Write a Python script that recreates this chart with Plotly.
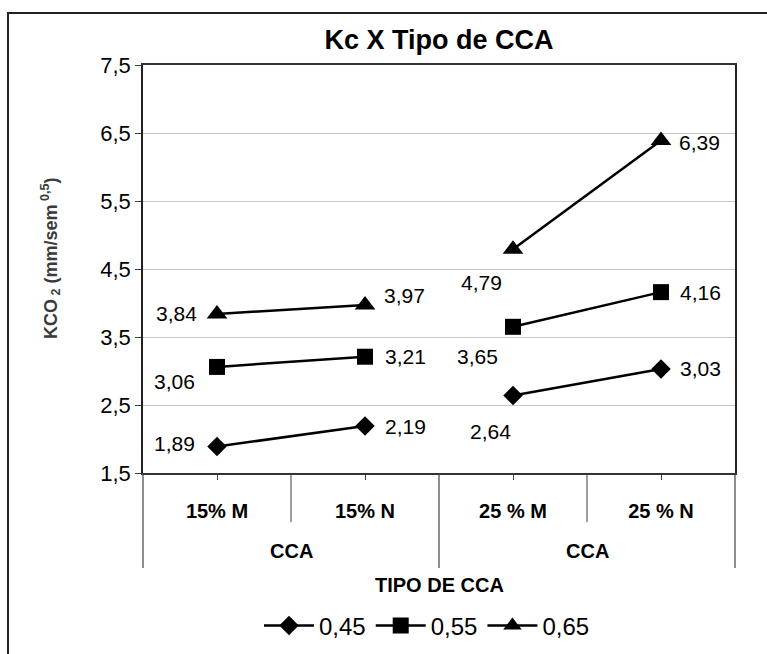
import plotly.graph_objects as go

# ---- data ----
categories = ["15% M", "15% N", "25 % M", "25 % N"]
groups = ["CCA", "CCA", "CCA ", "CCA "]          # two separate CCA groups
group_labels = ["CCA", "CCA"]
series_names = ["0,45", "0,55", "0,65"]
s045 = [1.89, 2.19, 2.64, 3.03]
s055 = [3.06, 3.21, 3.65, 4.16]
s065 = [3.84, 3.97, 4.79, 6.39]
y_ticks = [1.5, 2.5, 3.5, 4.5, 5.5, 6.5, 7.5]

# ---- style ----
symbols = ["diamond", "square", "triangle-up"]
msizes = [15, 16, 18]
# label placement per point: (xanchor, xshift, yshift)
label_pos = [
    [("right", -20, 3), ("left", 18, 0), ("right", 0, -36), ("left", 17, 0)],
    [("right", -20, -15), ("left", 18, 0), ("right", -13, -30), ("left", 17, 0)],
    [("right", -18, 0), ("left", 17, 10), ("right", -9, -33), ("left", 16, -2)],
]
FONT = "Arial, Liberation Sans, sans-serif"

W, H = 767, 654
ML, MR, MT, MB = 143, 32, 65, 181
PW, PH = W - ML - MR, H - MT - MB


def px_x(px):
    return (px - ML) / PW


def px_y(py):
    return (H - MB - py) / PH


fig = go.Figure()
all_series = [s045, s055, s065]
annotations = []
for si, vals in enumerate(all_series):
    grp_order = []
    for g in groups:
        if g not in grp_order:
            grp_order.append(g)
    for gi, g in enumerate(grp_order):
        idx = [i for i, gg in enumerate(groups) if gg == g]
        fig.add_trace(go.Scatter(
            x=[categories[i] for i in idx],
            y=[vals[i] for i in idx],
            mode="lines+markers",
            name=series_names[si],
            legendgroup=series_names[si],
            showlegend=(gi == 0),
            line=dict(color="black", width=2.5),
            marker=dict(symbol=symbols[si], size=msizes[si], color="black"),
            hoverinfo="x+y",
        ))
    for i, v in enumerate(vals):
        xa, xs, ys = label_pos[si][i]
        annotations.append(dict(
            x=categories[i], y=v, xref="x", yref="y",
            text=f"{v:.2f}".replace(".", ","), showarrow=False,
            xanchor=xa, yanchor="middle", xshift=xs, yshift=ys,
            font=dict(family=FONT, size=21, color="black"),
        ))

# group labels
for gx, gl in zip([0.25, 0.75], group_labels):
    annotations.append(dict(
        x=gx, y=px_y(551), xref="x domain", yref="paper", text=f"<b>{gl}</b>",
        showarrow=False, xanchor="center", yanchor="middle",
        font=dict(family=FONT, size=20, color="black"),
    ))
# x-axis title
annotations.append(dict(
    x=0.5, y=px_y(585), xref="paper", yref="paper", text="<b>TIPO DE CCA</b>",
    showarrow=False, xanchor="center", yanchor="middle",
    font=dict(family=FONT, size=20, color="black"),
))
# y-axis title
annotations.append(dict(
    x=px_x(50), y=px_y(258), xref="paper", yref="paper",
    text="<b>KCO<sub> 2</sub> (mm/sem<sup> 0,5</sup>)</b>", textangle=-90,
    showarrow=False, xanchor="center", yanchor="middle",
    font=dict(family=FONT, size=18, color="#3a3a3a"),
))

shapes = []
# inner category boundaries
for bx in [0.25, 0.75]:
    shapes.append(dict(type="line", xref="x domain", yref="paper",
                       x0=bx, x1=bx, y0=0, y1=px_y(522),
                       line=dict(color="#404040", width=1)))
# group dividers
for bx in [0.0, 0.5, 1.0]:
    shapes.append(dict(type="line", xref="x domain", yref="paper",
                       x0=bx, x1=bx, y0=0, y1=px_y(568),
                       line=dict(color="#404040", width=1.2)))
# outer chart border
shapes.append(dict(type="rect", xref="paper", yref="paper",
                   x0=px_x(8), x1=px_x(820), y0=px_y(13), y1=px_y(720),
                   line=dict(color="#222222", width=2), fillcolor="rgba(0,0,0,0)"))

fig.update_layout(
    width=W, height=H,
    margin=dict(l=ML, r=MR, t=MT, b=MB, autoexpand=False),
    paper_bgcolor="white", plot_bgcolor="white",
    separators=", ",
    font=dict(family=FONT, color="black"),
    title=dict(text="<b>Kc X Tipo de CCA</b>", x=0.5, xref="paper", xanchor="center",
               y=1 - 40 / H, yref="container", yanchor="middle",
               font=dict(family=FONT, size=27, color="black")),
    xaxis=dict(
        type="category", categoryorder="array", categoryarray=categories,
        range=[-0.5, len(categories) - 0.5],
        showgrid=False, zeroline=False,
        showline=True, linecolor="#333333", linewidth=1.5, mirror=True,
        ticks="outside", ticklen=5, tickcolor="#404040",
        ticklabelstandoff=14,
        tickfont=dict(family=FONT, size=20, color="black"),
        tickprefix="<b>", ticksuffix="</b>",
        fixedrange=True,
    ),
    yaxis=dict(
        range=[1.5, 7.5], tickvals=y_ticks, tickformat=".1f",
        showgrid=True, gridcolor="#c8c8c8", gridwidth=1, zeroline=False,
        showline=True, linecolor="#222222", linewidth=1.5, mirror=True,
        ticks="outside", ticklen=6, tickcolor="#404040",
        tickfont=dict(family=FONT, size=22, color="black"),
        fixedrange=True,
    ),
    legend=dict(orientation="h", x=px_x(427), xanchor="center",
                y=px_y(626), yanchor="middle",
                font=dict(family=FONT, size=24, color="black"),
                itemwidth=50, bgcolor="rgba(0,0,0,0)", tracegroupgap=0),
    annotations=annotations,
    shapes=shapes,
)

fig.write_html("out.html")
